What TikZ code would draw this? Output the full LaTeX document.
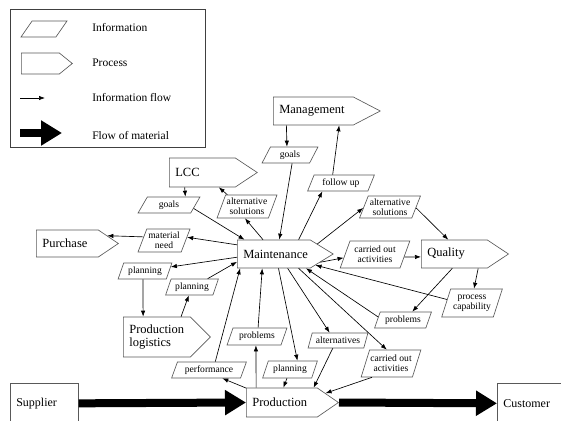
\documentclass[tikz,border=0pt]{standalone}
\usepackage{fontspec}
\setmainfont{Liberation Serif}
\usetikzlibrary{shapes.geometric,shapes.symbols,arrows.meta}
\tikzset{inf/.style = {trapezium, trapezium left angle=65, trapezium right angle=115,
                       trapezium stretches=true, draw=black!65, inner sep=0.5pt, align=center,
                       font=\fontsize{9.6}{10}\selectfont},
         prc/.style = {signal, signal to=east, draw=black!65, inner xsep=6pt, inner ysep=0pt,
                       align=left, anchor=west, font=\fontsize{12.5}{13}\selectfont},
         ext/.style = {rectangle, draw=black!65, inner xsep=6pt, align=left, anchor=north west,
                       minimum height=40pt, font=\fontsize{12}{13}\selectfont},
         lbl/.style = {anchor=west, inner sep=0pt, font=\fontsize{11.5}{12}\selectfont},
         mat/.style = {line width=8pt, -{Triangle[length=21pt,width=24pt]}}}

\begin{document}
\begin{tikzpicture}[x=1pt, y=-1pt, line width=0.65pt, >={Latex[length=6pt,width=4.4pt]}]
    \useasboundingbox (0,0) rectangle (561,420);
    \clip (0,0) rectangle (561,420);
    % legend
    \node[draw=black!75, minimum width=195pt, minimum height=138pt, anchor=north west] (leg) at (10,9) {};
    \node[inf, minimum width=46pt, minimum height=16pt] (legI) at (44,29) {};
    \node[prc, text width=26pt, minimum height=21pt, signal pointer angle=78] (legP) at (21,63.5) {};
    \coordinate (fa) at (20,98); \coordinate (fb) at (45,98);
    \coordinate (ma) at (20,133); \coordinate (mb) at (62,133);
    \draw[->] (fa) -- (fb);
    \draw[mat] (ma) -- (mb);
    \node[lbl] (tI) at (92,28) {Information};
    \node[lbl] (tP) at (92,63) {Process};
    \node[lbl] (tF) at (92,97.5) {Information flow};
    \node[lbl] (tM) at (92,136) {Flow of material};
    % processes
    \node[prc, text width=68pt, minimum height=28pt, signal pointer angle=55] (mgmt) at (273,111) {Management};
    \node[prc, text width=54pt, minimum height=29pt, signal pointer angle=67] (lcc) at (169,172.5) {LCC};
    \node[prc, text width=50pt, minimum height=27pt, signal pointer angle=68] (purch) at (36,243.5) {Purchase};
    \node[prc, text width=61pt, minimum height=28pt, signal pointer angle=63] (maint) at (237,254) {Maintenance};
    \node[prc, text width=54pt, minimum height=28pt, signal pointer angle=67] (qual) at (421,254) {Quality};
    \node[prc, text width=55pt, minimum height=40pt, signal pointer angle=90] (plog) at (123,337) {Production\\logistics};
    \node[prc, text width=59pt, minimum height=29pt, signal pointer angle=69] (prod) at (246,402.5) {Production};
    \node[ext, text width=56pt] (sup) at (10,383) {Supplier};
    \node[ext, text width=66pt] (cust) at (497,383) {Customer};
    % information
    \node[inf, minimum width=56pt, minimum height=16pt] (goalsM) at (290,155) {goals};
    \node[inf, minimum width=67pt, minimum height=16pt] (follow) at (341,183) {follow up};
    \node[inf, minimum width=62pt, minimum height=16pt] (goalsL) at (169,205) {goals};
    \node[inf, minimum width=60pt, minimum height=23pt] (altL) at (247,206.5) {alternative\\solutions};
    \node[inf, minimum width=61pt, minimum height=22pt] (altR) at (390,207) {alternative\\solutions};
    \node[inf, minimum width=52pt, minimum height=23pt] (need) at (164,240.5) {material\\need};
    \node[inf, minimum width=54pt, minimum height=16pt] (planA) at (145,271) {planning};
    \node[inf, minimum width=53pt, minimum height=16pt] (planB) at (192,287) {planning};
    \node[inf, minimum width=70pt, minimum height=27pt] (carR) at (375,254.5) {carried out\\activities};
    \node[inf, minimum width=61pt, minimum height=28pt] (capab) at (472,303) {process\\capability};
    \node[inf, minimum width=57pt, minimum height=16pt] (probR) at (403,320) {problems};
    \node[inf, minimum width=60pt, minimum height=17pt] (probC) at (257,336.5) {problems};
    \node[inf, minimum width=75pt, minimum height=16pt] (perf) at (209,370) {performance};
    \node[inf, minimum width=55pt, minimum height=17pt] (planC) at (290,369.5) {planning};
    \node[inf, minimum width=60pt, minimum height=15pt] (alts) at (338,340.5) {alternatives};
    \node[inf, minimum width=60pt, minimum height=27pt] (carB) at (391,363.5) {carried out\\activities};
    % information flow
    \draw[->] (mgmt.208) -- (goalsM.110);
    \draw[->] (goalsM.284) -- (maint.69);
    \draw[->] (maint.30) -- (follow.204);
    \draw[->] (follow.135) -- (mgmt.331);
    \draw[->] (maint.13) -- (altR.182);
    \draw[->] (altR.358) -- (qual.113);
    \draw[->] (maint.350) -- (carR.186);
    \draw[->] (carR.355) -- (qual.185);
    \draw[->] (qual.329) -- (capab.82);
    \draw[->] (qual.262) -- (probR.42);
    \draw[->] (capab.172) -- (maint.345);
    \draw[->] (probR.173) -- (maint.336);
    \draw[->] (maint.314) -- (alts.137);
    \draw[->] (alts.236) -- (prod.25);
    \draw[->] (maint.330) -- (carB.107);
    \draw[->] (carB.216) -- (prod.12);
    \draw[->] (maint.288) -- (planC.50);
    \draw[->] (planC.251) -- (prod.84);
    \draw[->] (prod.150) -- (probC.263);
    \draw[->] (probC.83) -- (maint.231);
    \draw[->] (prod.158) -- (perf.328);
    \draw[->] (perf.53) -- (maint.203);
    \draw[->] (maint.166) -- (need.8);
    \draw[->] (need.170) -- (purch.11);
    \draw[->] (maint.185) -- (planA.9);
    \draw[->] (planA.256) -- (plog.124);
    \draw[->] (plog.40) -- (planB.249);
    \draw[->] (planB.28) -- (maint.192);
    \draw[->] (goalsL.352) -- (maint.154);
    \draw[->] (maint.127) -- (altL.260);
    \draw[->] (altL.149) -- (lcc.318);
    \draw[->] (lcc.220) -- (goalsL.27);
    % flow of material
    \draw[mat] (sup.east) -- (prod.west);
    \draw[mat] (prod.east) -- (cust.west);
\end{tikzpicture}
\end{document}
